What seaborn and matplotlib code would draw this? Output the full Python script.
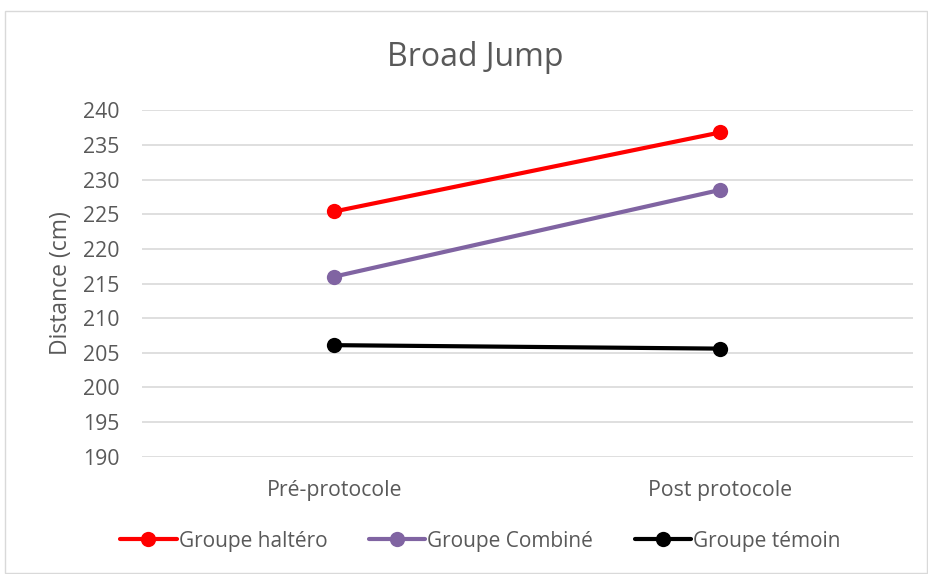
import matplotlib
matplotlib.use("Agg")
import matplotlib.pyplot as plt
import seaborn as sns
import pandas as pd
from matplotlib.patches import Rectangle

categories = ["Pré-protocole", "Post protocole"]
groups = ["Groupe haltéro", "Groupe Combiné", "Groupe témoin"]
halt = [225.4, 236.8]
comb = [216.0, 228.5]
temoin = [206.1, 205.6]
colors = ["#FF0000", "#8064A2", "#000000"]
yticks = list(range(190, 241, 5))

rows = []
for g, vals in zip(groups, [halt, comb, temoin]):
    for i, v in enumerate(vals):
        rows.append({"x": i, "cat": categories[i], "group": g, "value": v})
df = pd.DataFrame(rows)

sns.set_style("white")
plt.rcParams['font.family'] = ['Open Sans', 'DejaVu Sans']

fig = plt.figure(figsize=(9.29, 5.74), dpi=100)
ax = fig.add_axes([141.7/929, 1-456.7/574, (912.7-141.7)/929, (456.7-110.3)/574])

sns.lineplot(data=df, x="x", y="value", hue="group", hue_order=groups,
             palette=colors, marker="o", markersize=11, markeredgewidth=0,
             linewidth=3, ax=ax, legend=True)

ax.set_xlim(-0.5, 1.5)
ax.set_ylim(190, 240)
ax.set_yticks(yticks)
ax.set_xticks([0, 1])
ax.set_xticklabels(categories)
ax.yaxis.grid(True, color="#D9D9D9", linewidth=1.2)
ax.set_axisbelow(True)
for s in ax.spines.values():
    s.set_visible(False)
ax.tick_params(axis="both", length=0, labelsize=15.3, labelcolor="#595959")
ax.tick_params(axis="x", pad=17)
ax.tick_params(axis="y", pad=16)
ax.set_xlabel("")
ax.set_ylabel("Distance (cm)", fontsize=16.5, color="#595959")
ax.yaxis.set_label_coords((73-141.7)/771, 0.5)

fig.text(475/929, 1-57/574, "Broad Jump", ha="center", va="center",
         fontsize=23, color="#595959")

handles, labels = ax.get_legend_handles_labels()
leg = ax.legend(handles, labels, loc="center", bbox_to_anchor=(480.5/929, 1-541/574),
                bbox_transform=fig.transFigure, ncol=3, frameon=False,
                fontsize=15, handlelength=2.7, handletextpad=0.1, columnspacing=2.0)
for t in leg.get_texts():
    t.set_color("#595959")

fig.patches.append(Rectangle((5/929, 0.002), 922/929, 1-11/574-0.002,
                             transform=fig.transFigure, fill=False,
                             edgecolor="#D9D9D9", linewidth=1))

fig.savefig("out.png", dpi=100)
